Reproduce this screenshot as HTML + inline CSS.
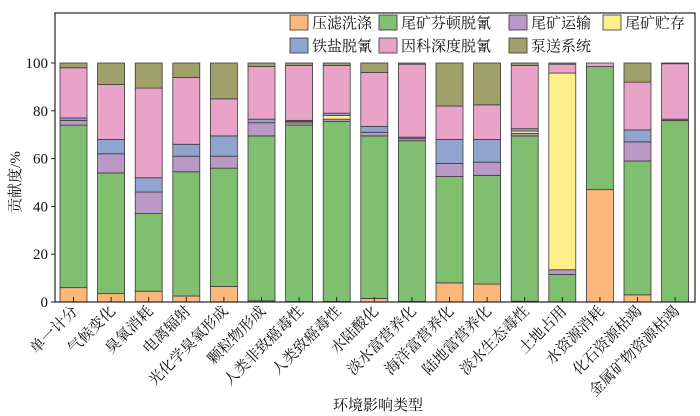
<!DOCTYPE html>
<html><head><meta charset="utf-8"><style>
html,body{margin:0;padding:0;background:#fff;}
svg{display:block;font-family:"Liberation Serif","Noto Serif CJK SC",serif;}
</style></head><body>
<svg width="700" height="416" viewBox="0 0 700 416" xmlns="http://www.w3.org/2000/svg">
<rect x="0" y="0" width="700" height="416" fill="#fff"/>
<g id="bars" stroke="#3a3a3a" stroke-width="0.8"></g>
<rect x="55" y="13" width="640" height="289" fill="none" stroke="#222" stroke-width="1.2"/>
<g id="axes" stroke="#222" stroke-width="1"></g>
<g id="txt" font-size="15" fill="#111"></g>
<g font-size="15" fill="#111">
<text x="333" y="410">环境影响类型</text>
<text transform="translate(20,182) rotate(-90)" text-anchor="middle">贡献度/%</text>
</g>
<g font-size="15" fill="#111" stroke="#333" stroke-width="0.8">
<rect x="290" y="15" width="18" height="15" fill="#FDB77A"/><text x="312" y="28" stroke="none">压滤洗涤</text>
<rect x="379" y="15" width="18" height="15" fill="#7FBF6F"/><text x="401" y="28" stroke="none">尾矿芬顿脱氰</text>
<rect x="509" y="15" width="18" height="15" fill="#BB99C6"/><text x="531" y="28" stroke="none">尾矿运输</text>
<rect x="603" y="15" width="18" height="15" fill="#FDF08A"/><text x="625" y="28" stroke="none">尾矿贮存</text>
<rect x="290" y="38" width="18" height="15" fill="#8FA5CF"/><text x="312" y="51" stroke="none">铁盐脱氰</text>
<rect x="379" y="38" width="18" height="15" fill="#E9A3C9"/><text x="401" y="51" stroke="none">因科深度脱氰</text>
<rect x="509" y="38" width="18" height="15" fill="#9FA06A"/><text x="531" y="51" stroke="none">泵送系统</text>
</g>
<script>
var cols=["#FDB77A","#7FBF6F","#BB99C6","#FDF08A","#8FA5CF","#E9A3C9","#9FA06A"];
// cumulative tops: orange, green, purple, yellow, blue, pink, olive
var d=[
[6,74,76,76,77,98,100],
[3.5,54,62,62,68,91,100],
[4.5,37,46,46,52,89.5,100],
[2.5,54.5,61,61,66,94,100],
[6.5,56,61,61,69.5,85,100],
[0.5,69.5,75,75,76.5,98.5,100],
[0.2,74,75,75.5,76,99,100],
[0.2,75.5,76.5,78,79,99,100],
[1.5,69.5,71,71,73.5,96,100],
[0.2,67.5,68.5,68.5,69,99.5,100],
[8,52.5,58,58,68,82,100],
[7.5,53,58.5,58.5,68,82.5,100],
[0.3,69.5,70.5,71.5,72.5,99,100],
[0,11.5,13.5,95.8,95.8,99.5,100],
[47,98.5,98.5,98.5,98.5,100,100],
[3,59,67,67,72,92,100],
[0,76,76.5,76.5,76.5,99.7,100]];
var labs=["单一计分","气候变化","臭氧消耗","电离辐射","光化学臭氧形成","颗粒物形成","人类非致癌毒性","人类致癌毒性","水陆酸化","淡水富营养化","海洋富营养化","陆地富营养化","淡水生态毒性","土地占用","水资源消耗","化石资源枯竭","金属矿物资源枯竭"];
var ns="http://www.w3.org/2000/svg";
function Y(v){return 302-v*2.39;}
var g=document.getElementById("bars"),ax=document.getElementById("axes"),tx=document.getElementById("txt");
function el(p,t,a){var e=document.createElementNS(ns,t);for(var k in a)e.setAttribute(k,a[k]);p.appendChild(e);return e;}
for(var i=0;i<17;i++){
 var cx=73.5+i*37.6,prev=0;
 for(var j=0;j<7;j++){var v=d[i][j];if(v-prev>0.01){el(g,"rect",{x:cx-13.5,y:Y(v),width:27,height:Y(prev)-Y(v),fill:cols[j]});}prev=v;}
 el(ax,"line",{x1:cx,y1:302,x2:cx,y2:297});
 var t=el(tx,"text",{"text-anchor":"end",transform:"translate("+(cx+5)+",312) rotate(-45)"});t.textContent=labs[i];
}
for(var k=0;k<=5;k++){var y=Y(k*20);el(ax,"line",{x1:51,y1:y,x2:55,y2:y});var t=el(tx,"text",{x:48,y:y+5,"text-anchor":"end"});t.textContent=k*20;}
</script>
</svg>
</body></html>
